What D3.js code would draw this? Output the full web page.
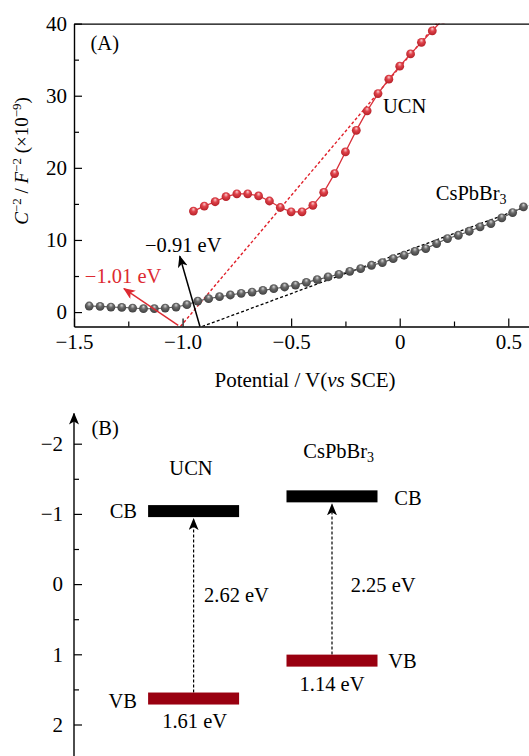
<!DOCTYPE html>
<html><head><meta charset="utf-8">
<script src="https://cdn.jsdelivr.net/npm/d3@7"></script>
<style>
body{margin:0;background:#fff}
svg{display:block}
text{font-family:"Liberation Serif","Times New Roman",serif;fill:#000}
</style>
</head><body>
<svg id="c" width="529" height="756"></svg>
<script>
// ---------- Panel A data ----------
const cspbX = [-1.43,-1.38,-1.33,-1.28,-1.23,-1.18,-1.13,-1.08,-1.03,-0.98,-0.93,-0.88,-0.83,-0.78,-0.73,-0.68,-0.63,
  -0.58,-0.53,-0.48,-0.43,-0.38,-0.33,-0.28,-0.23,-0.18,-0.13,-0.08,-0.03,0.02,0.07,0.12,0.17,0.22,0.27,0.32,0.37,0.42,0.47,0.52,0.57];
const cspbY = [0.84,0.79,0.70,0.65,0.56,0.47,0.47,0.56,0.70,1.02,1.53,1.86,2.13,2.37,2.60,2.78,3.01,
  3.24,3.48,3.75,4.12,4.50,4.87,5.24,5.65,6.02,6.49,6.86,7.41,7.88,8.43,8.80,9.50,10.19,10.65,11.21,11.81,12.27,13.06,13.80,14.59];
const ucnX = [-0.95,-0.90,-0.85,-0.80,-0.75,-0.70,-0.65,-0.60,-0.55,-0.50,-0.45,-0.40,-0.35,-0.30,-0.25,-0.20,-0.15,-0.10,-0.05,0.00,0.05,0.10,0.15,0.20];
const ucnY = [14.0,14.7,15.3,16.0,16.4,16.4,16.1,15.4,14.5,13.9,13.9,14.8,16.6,19.2,22.2,25.2,27.9,30.3,32.3,34.1,35.8,37.4,39.0,40.6];
const ucnFit = [[-1.01,-2],[0.17,40]];
const cspbFit = [[-0.91,-2],[0.60,14.8]];
const xTicks = [-1.5,-1.0,-0.5,0,0.5];
const xTickLabels = ["\u22121.5","\u22121.0","\u22120.5","0","0.5"];
const xMinor = [-1.25,-0.75,-0.25,0.25];
const yTicks = [0,10,20,30,40];
const yMinor = [5,15,25,35];

// ---------- Panel B data ----------
const materials = ["UCN","CsPbBr3"];
const cbLevel = [-1.04,-1.25];   // drawn position
const vbLevel = [1.63,1.09];     // drawn position
const vbLabel = ["1.61 eV","1.14 eV"];
const gapLabel = ["2.62 eV","2.25 eV"];
const bTicks = [-2,-1,0,1,2];
const bTickLabels = ["\u22122","\u22121","0","1","2"];
const bMinor = [-1.5,-0.5,0.5,1.5];

const svg = d3.select("#c");
const defs = svg.append("defs");

function sphereGrad(id, hi, mid, edge){
  const g = defs.append("radialGradient").attr("id",id)
    .attr("cx","50%").attr("cy","45%").attr("r","60%").attr("fx","50%").attr("fy","25%");
  g.append("stop").attr("offset","0%").attr("stop-color",hi);
  g.append("stop").attr("offset","40%").attr("stop-color",mid);
  g.append("stop").attr("offset","100%").attr("stop-color",edge);
}
sphereGrad("gRed","#fbd0d2","#e0434b","#b01c24");
sphereGrad("gGray","#d8d8d8","#6a6a6a","#3a3a3a");

function marker(id, color){
  defs.append("marker").attr("id",id).attr("viewBox","0 0 12 10")
    .attr("refX",11).attr("refY",5).attr("markerWidth",12).attr("markerHeight",10)
    .attr("markerUnits","userSpaceOnUse").attr("orient","auto")
    .append("path").attr("d","M0,0 L12,5 L0,10 L3,5 Z").attr("fill",color);
}
marker("aBlack","#000");
marker("aRed","#dd2a32");

const TF = 21;   // tick font
const LF = 20.5; // label font

// ---------- Panel A ----------
const x = d3.scaleLinear().domain([-1.5,0.6]).range([74,530]);
const y = d3.scaleLinear().domain([-2,40]).range([326.5,23.6]);

defs.append("clipPath").attr("id","clipA").append("rect")
  .attr("x",x(-1.5)).attr("y",y(40)).attr("width",x(0.6)-x(-1.5)).attr("height",y(-2)-y(40));

const gA = svg.append("g");
const plot = gA.append("g").attr("clip-path","url(#clipA)");

const line = d3.line().x(d=>x(d[0])).y(d=>y(d[1]));

plot.append("path").datum(ucnFit).attr("d",line).attr("fill","none")
  .attr("stroke","#e0202a").attr("stroke-width",1.4).attr("stroke-dasharray","3,2.2");
plot.append("path").datum(cspbFit).attr("d",line).attr("fill","none")
  .attr("stroke","#000").attr("stroke-width",1.3).attr("stroke-dasharray","3,2.2");

const cspb = cspbX.map((v,i)=>[v,cspbY[i]]);
const ucn = ucnX.map((v,i)=>[v,ucnY[i]]);

plot.append("path").datum(cspb).attr("d",line).attr("fill","none").attr("stroke","#555").attr("stroke-width",1.1);
plot.append("path").datum(ucn).attr("d",line).attr("fill","none").attr("stroke","#d9323c").attr("stroke-width",1.3);

plot.selectAll(".pg").data(cspb).enter().append("circle")
  .attr("cx",d=>x(d[0])).attr("cy",d=>y(d[1])).attr("r",4.4).attr("fill","url(#gGray)");
plot.selectAll(".pr").data(ucn).enter().append("circle")
  .attr("cx",d=>x(d[0])).attr("cy",d=>y(d[1])).attr("r",4.4).attr("fill","url(#gRed)");

const axB = gA.append("g").attr("transform",`translate(0,${y(-2)})`)
  .call(d3.axisBottom(x).tickValues(xTicks).tickFormat((d,i)=>xTickLabels[i]).tickSizeInner(-8).tickSizeOuter(0));
axB.selectAll("text").attr("y",22).attr("dy",0).attr("font-size",TF);
gA.append("g").attr("transform",`translate(0,${y(-2)})`)
  .call(d3.axisBottom(x).tickValues(xMinor).tickFormat("").tickSizeInner(-5).tickSizeOuter(0))
  .select(".domain").remove();

const axL = gA.append("g").attr("transform",`translate(${x(-1.5)},0)`)
  .call(d3.axisLeft(y).tickValues(yTicks).tickSizeInner(-8).tickSizeOuter(0).tickPadding(7));
axL.selectAll("text").attr("font-size",TF);
gA.append("g").attr("transform",`translate(${x(-1.5)},0)`)
  .call(d3.axisLeft(y).tickValues(yMinor).tickFormat("").tickSizeInner(-5).tickSizeOuter(0))
  .select(".domain").remove();

gA.append("g").attr("transform",`translate(0,${y(40)})`)
  .call(d3.axisTop(x).tickValues([]).tickSizeOuter(0));

svg.selectAll(".domain").attr("stroke-width",1.4);
svg.selectAll(".tick line").attr("stroke-width",1.2);

gA.append("line").attr("x1",x(-1.02)).attr("y1",y(-1.85)).attr("x2",x(-1.27)).attr("y2",y(3.25))
  .attr("stroke","#dd2a32").attr("stroke-width",1.4).attr("marker-end","url(#aRed)");
gA.append("line").attr("x1",x(-0.92)).attr("y1",y(-2)).attr("x2",x(-1.013)).attr("y2",y(7.75))
  .attr("stroke","#000").attr("stroke-width",1.5).attr("marker-end","url(#aBlack)");

gA.append("text").attr("x",x(-1.45)).attr("y",y(4.0)).attr("font-size",LF).style("fill","#dd2a32").text("\u22121.01 eV");
gA.append("text").attr("x",x(-1.173)).attr("y",y(8.33)).attr("font-size",LF).text("\u22120.91 eV");
gA.append("text").attr("x",x(-0.077)).attr("y",y(27.55)).attr("font-size",LF).text("UCN");
const tC = gA.append("text").attr("x",x(0.166)).attr("y",y(15.6)).attr("font-size",LF);
tC.append("tspan").text("CsPbBr");
tC.append("tspan").attr("font-size",14).attr("dy",4).text("3");
gA.append("text").attr("x",90.5).attr("y",50).attr("font-size",LF).text("(A)");

const xt = gA.append("text").attr("x",305).attr("y",387).attr("text-anchor","middle").attr("font-size",21);
xt.append("tspan").text("Potential / V(");
xt.append("tspan").attr("font-style","italic").text("vs");
xt.append("tspan").text(" SCE)");

const yt = gA.append("text").attr("transform","translate(28,161) rotate(-90)").attr("text-anchor","middle").attr("font-size",19);
yt.append("tspan").attr("font-style","italic").text("C");
yt.append("tspan").attr("font-size",13).attr("dy",-7).text("\u22122");
yt.append("tspan").attr("dy",7).text(" / ");
yt.append("tspan").attr("font-style","italic").text("F");
yt.append("tspan").attr("font-size",13).attr("dy",-7).text("\u22122");
yt.append("tspan").attr("dy",7).text(" (\u00d710");
yt.append("tspan").attr("font-size",13).attr("dy",-7).text("\u22129");
yt.append("tspan").attr("dy",7).text(")");

// ---------- Panel B ----------
const yB = d3.scaleLinear().domain([-2,2]).range([443.7,724.5]);
const xB = d3.scalePoint().domain(materials).range([193.6,332]);
const barW = 91, barH = 12;
const gB = svg.append("g");

const axBL = gB.append("g").attr("transform",`translate(74,0)`)
  .call(d3.axisLeft(yB).tickValues(bTicks).tickFormat((d,i)=>bTickLabels[i]).tickSizeInner(-8).tickSizeOuter(0).tickPadding(11));
axBL.select(".domain").remove();
axBL.selectAll("text").attr("font-size",TF);
axBL.selectAll(".tick line").attr("stroke-width",1.2);
const axBm = gB.append("g").attr("transform",`translate(74,0)`)
  .call(d3.axisLeft(yB).tickValues(bMinor).tickFormat("").tickSizeInner(-5).tickSizeOuter(0));
axBm.select(".domain").remove();
axBm.selectAll(".tick line").attr("stroke-width",1.2);
gB.append("line").attr("x1",74).attr("x2",74).attr("y1",yB(2.5)).attr("y2",yB(-2.43))
  .attr("stroke","#000").attr("stroke-width",1.4).attr("marker-end","url(#aBlack)");

materials.forEach((m,i)=>{
  gB.append("line").attr("x1",xB(m)).attr("x2",xB(m))
    .attr("y1",yB(vbLevel[i])-barH/2).attr("y2",yB(cbLevel[i])+barH/2+2)
    .attr("stroke","#000").attr("stroke-width",1.2).attr("stroke-dasharray","3,2")
    .attr("marker-end","url(#aBlack)");
});
gB.selectAll(".cb").data(materials).enter().append("rect")
  .attr("x",d=>xB(d)-barW/2).attr("width",barW)
  .attr("y",(d,i)=>yB(cbLevel[i])-barH/2).attr("height",barH).attr("fill","#000");
gB.selectAll(".vb").data(materials).enter().append("rect")
  .attr("x",d=>xB(d)-barW/2).attr("width",barW)
  .attr("y",(d,i)=>yB(vbLevel[i])-barH/2).attr("height",barH).attr("fill","#990010");

const fs = LF;
gB.append("text").attr("x",91.5).attr("y",435).attr("font-size",fs).text("(B)");
gB.append("text").attr("x",191).attr("y",475).attr("text-anchor","middle").attr("font-size",fs).text("UCN");
const tB = gB.append("text").attr("x",303.3).attr("y",458).attr("font-size",fs);
tB.append("tspan").text("CsPbBr");
tB.append("tspan").attr("font-size",14).attr("dy",4).text("3");
gB.append("text").attr("x",137).attr("y",yB(cbLevel[0])+7).attr("text-anchor","end").attr("font-size",fs).text("CB");
gB.append("text").attr("x",137).attr("y",yB(vbLevel[0])+9.5).attr("text-anchor","end").attr("font-size",fs).text("VB");
gB.append("text").attr("x",xB("UCN")+1).attr("y",yB(vbLevel[0])+29.5).attr("text-anchor","middle").attr("font-size",fs).text(vbLabel[0]);
gB.append("text").attr("x",204).attr("y",601.7).attr("font-size",fs).text(gapLabel[0]);
gB.append("text").attr("x",394.3).attr("y",yB(cbLevel[1])+8.5).attr("font-size",fs).text("CB");
gB.append("text").attr("x",388.3).attr("y",yB(vbLevel[1])+7).attr("font-size",fs).text("VB");
gB.append("text").attr("x",xB("CsPbBr3")).attr("y",yB(vbLevel[1])+30.5).attr("text-anchor","middle").attr("font-size",fs).text(vbLabel[1]);
gB.append("text").attr("x",350.7).attr("y",591.7).attr("font-size",fs).text(gapLabel[1]);
</script>
</body></html>
